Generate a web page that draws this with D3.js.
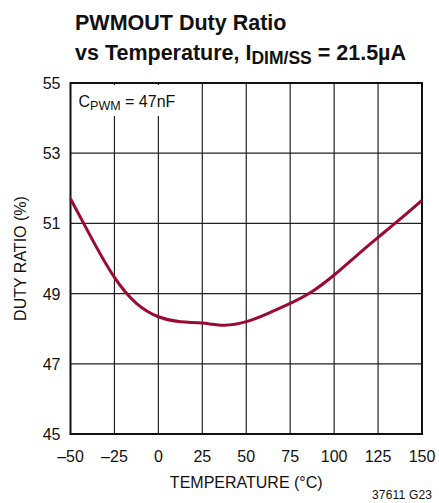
<!DOCTYPE html>
<html>
<head>
<meta charset="utf-8">
<script src="https://cdn.jsdelivr.net/npm/d3@7"></script>
<style>
  body { margin: 0; background: #fff; }
  text { font-family: "Liberation Sans Narrow", "Arial Narrow", "Liberation Sans", sans-serif; fill: #111; }
</style>
</head>
<body>
<div id="chart"></div>
<script>
// data
const temps = [-50, -37.5, -25, -12.5, 0, 12.5, 25, 37.5, 50, 62.5, 75, 87.5, 100, 112.5, 125, 137.5, 150];
const duty = [51.7, 50.53, 49.46, 48.72, 48.34, 48.2, 48.16, 48.1, 48.2, 48.44, 48.72, 49.06, 49.53, 50.07, 50.6, 51.12, 51.66];
const xTicks = [-50, -25, 0, 25, 50, 75, 100, 125, 150];
const yTicks = [45, 47, 49, 51, 53, 55];

function draw(){
    let dimensions = {
        width: 439,
        height: 503,
        margin: { top: 83, bottom: 69, left: 70.5, right: 17 }
    }
    dimensions.ctrWidth = dimensions.width - dimensions.margin.left - dimensions.margin.right
    dimensions.ctrHeight = dimensions.height - dimensions.margin.top - dimensions.margin.bottom

    const svg = d3.select('#chart')
      .append('svg')
      .attr('width', dimensions.width)
      .attr('height', dimensions.height)

    // title
    const title = svg.append('text')
        .attr('font-size', 21.5)
        .attr('font-weight', 'bold')
    title.append('tspan').attr('x', 75).attr('y', 29.5).text('PWMOUT Duty Ratio')
    const l2 = title.append('tspan').attr('x', 75).attr('y', 60)
    l2.append('tspan').text('vs Temperature, I')
    l2.append('tspan').attr('font-size', 17.5).attr('dy', 4).text('DIM/SS')
    l2.append('tspan').attr('dy', -4).text(' = 21.5µA')

    const ctr = svg.append('g')
        .attr('transform', `translate(${dimensions.margin.left}, ${dimensions.margin.top})`)

    const xScale = d3.scaleLinear()
        .domain([-50, 150])
        .range([0, dimensions.ctrWidth])
    const yScale = d3.scaleLinear()
        .domain([45, 55])
        .range([dimensions.ctrHeight, 0])

    // grid
    ctr.selectAll('.vgrid')
        .data(xTicks.slice(1, -1))
        .join('line')
        .attr('x1', d => xScale(d)).attr('x2', d => xScale(d))
        .attr('y1', 0).attr('y2', dimensions.ctrHeight)
        .attr('stroke', '#222').attr('stroke-width', 1.2)
    ctr.selectAll('.hgrid')
        .data(yTicks.slice(1, -1))
        .join('line')
        .attr('y1', d => yScale(d)).attr('y2', d => yScale(d))
        .attr('x1', 0).attr('x2', dimensions.ctrWidth)
        .attr('stroke', '#222').attr('stroke-width', 1.2)

    ctr.append('rect')
        .attr('width', dimensions.ctrWidth)
        .attr('height', dimensions.ctrHeight)
        .attr('fill', 'none')
        .attr('stroke', '#111')
        .attr('stroke-width', 2)

    // label box in the corner
    ctr.append('rect')
        .attr('x', 2).attr('y', 2)
        .attr('width', 108).attr('height', 31)
        .attr('fill', '#fff')
    const ann = ctr.append('text')
        .attr('x', 8).attr('y', 24)
        .attr('font-size', 16)
    ann.append('tspan').text('C')
    ann.append('tspan').attr('font-size', 12.5).attr('dy', 3).text('PWM')
    ann.append('tspan').attr('dy', -3).text(' = 47nF')

    // tick labels
    ctr.selectAll('.xlab')
        .data(xTicks)
        .join('text')
        .attr('x', d => xScale(d))
        .attr('y', dimensions.ctrHeight + 28)
        .attr('text-anchor', 'middle')
        .attr('font-size', 16)
        .text(d => d < 0 ? '\u2013' + Math.abs(d) : d)
    ctr.selectAll('.ylab')
        .data(yTicks)
        .join('text')
        .attr('x', -10)
        .attr('y', d => yScale(d) + 6)
        .attr('text-anchor', 'end')
        .attr('font-size', 16)
        .text(d => d)

    svg.append('text')
        .attr('x', dimensions.margin.left + dimensions.ctrWidth / 2)
        .attr('y', 488)
        .attr('text-anchor', 'middle')
        .attr('font-size', 16)
        .text('TEMPERATURE (°C)')
    svg.append('text')
        .attr('transform', `translate(26, ${dimensions.margin.top + dimensions.ctrHeight / 2}) rotate(-90)`)
        .attr('text-anchor', 'middle')
        .attr('font-size', 16)
        .text('DUTY RATIO (%)')
    svg.append('text')
        .attr('x', 432)
        .attr('y', 499)
        .attr('text-anchor', 'end')
        .attr('font-size', 12)
        .attr('textLength', 60)
        .text('37611 G23')

    // curve
    const line = d3.line()
        .x((d, i) => xScale(temps[i]))
        .y(d => yScale(d))
        .curve(d3.curveNatural)
    ctr.append('path')
        .datum(duty)
        .attr('d', line)
        .attr('fill', 'none')
        .attr('stroke', '#9a0a33')
        .attr('stroke-width', 3)
}

draw();
</script>
</body>
</html>
